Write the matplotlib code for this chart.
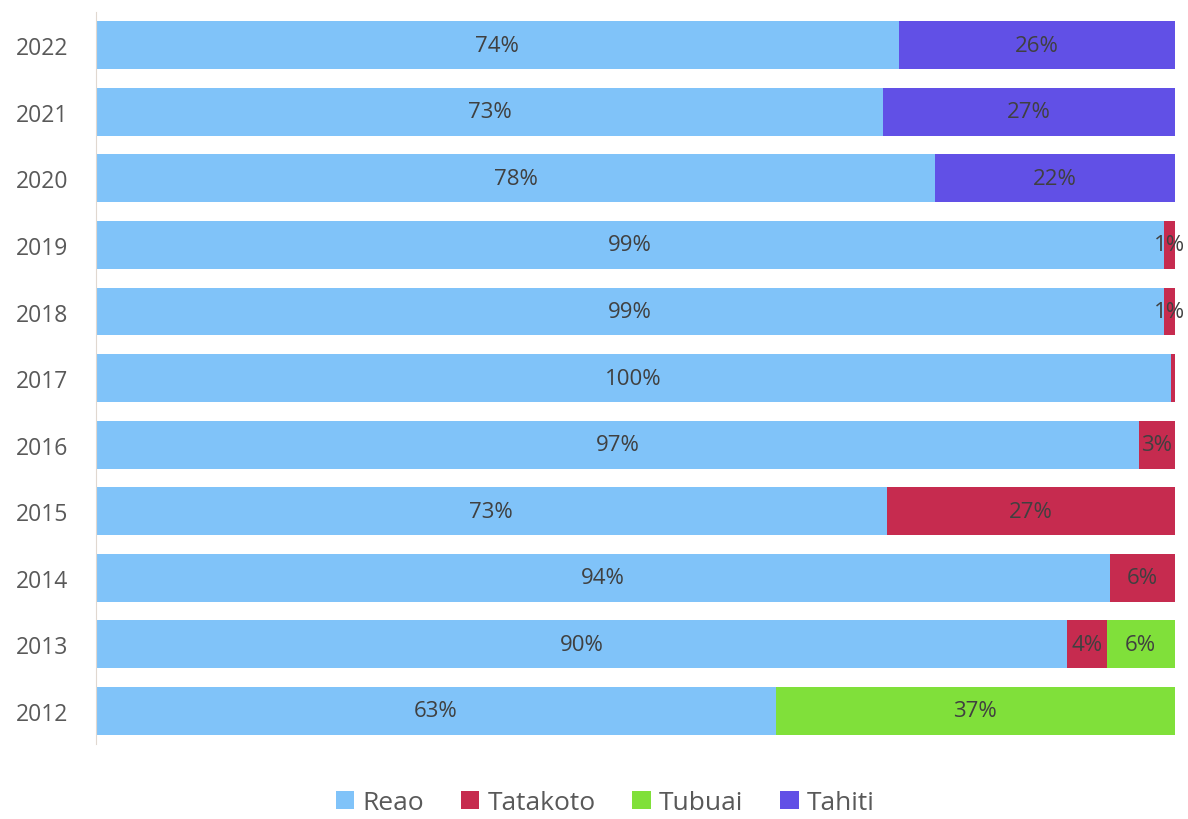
import matplotlib.pyplot as plt
import numpy as np

years = ["2012", "2013", "2014", "2015", "2016", "2017", "2018", "2019", "2020", "2021", "2022"]
reao = [63, 90, 94, 73.3, 96.7, 99.7, 99, 99, 77.8, 73, 74.4]
tatakoto = [0, 3.7, 6, 26.7, 3.3, 0.3, 1, 1, 0, 0, 0]
tubuai = [37, 6.3, 0, 0, 0, 0, 0, 0, 0, 0, 0]
tahiti = [0, 0, 0, 0, 0, 0, 0, 0, 22.2, 27, 25.6]

series = [("Reao", reao, "#80C3F9"),
          ("Tatakoto", tatakoto, "#C62B4F"),
          ("Tubuai", tubuai, "#80E03A"),
          ("Tahiti", tahiti, "#6150E6")]

plt.rcParams['font.family'] = ['Open Sans', 'DejaVu Sans']

fig = plt.figure(figsize=(11.88, 8.2), dpi=100)
ax = fig.add_axes([0.0808, 0.0915, 0.908, 0.8925])

y = np.arange(len(years))
left = np.zeros(len(years))
for name, vals, color in series:
    vals = np.array(vals, dtype=float)
    ax.barh(y, vals, left=left, height=0.72, color=color, label=name)
    for i, v in enumerate(vals):
        if v >= 0.9:
            ax.text(left[i] + v / 2, y[i], f"{round(v)}%", ha='center', va='center',
                    fontsize=16, color='#404040')
    left += vals

ax.set_xlim(0, 100)
ax.set_ylim(-0.5, len(years) - 0.5)
ax.set_yticks(y)
ax.set_yticklabels(years, fontsize=16.5, color='#595959')
ax.set_xticks([])
for s in ['top', 'right', 'bottom']:
    ax.spines[s].set_visible(False)
ax.spines['left'].set_color('#E0D8D0')
ax.tick_params(axis='y', length=0, pad=20)

ax.legend(loc='center', bbox_to_anchor=(0.472, -0.08), ncol=4, frameon=False,
          fontsize=19, labelcolor='#595959', handlelength=0.7, handleheight=0.7,
          handletextpad=0.3, columnspacing=1.4)

fig.savefig("out.png", dpi=100)
